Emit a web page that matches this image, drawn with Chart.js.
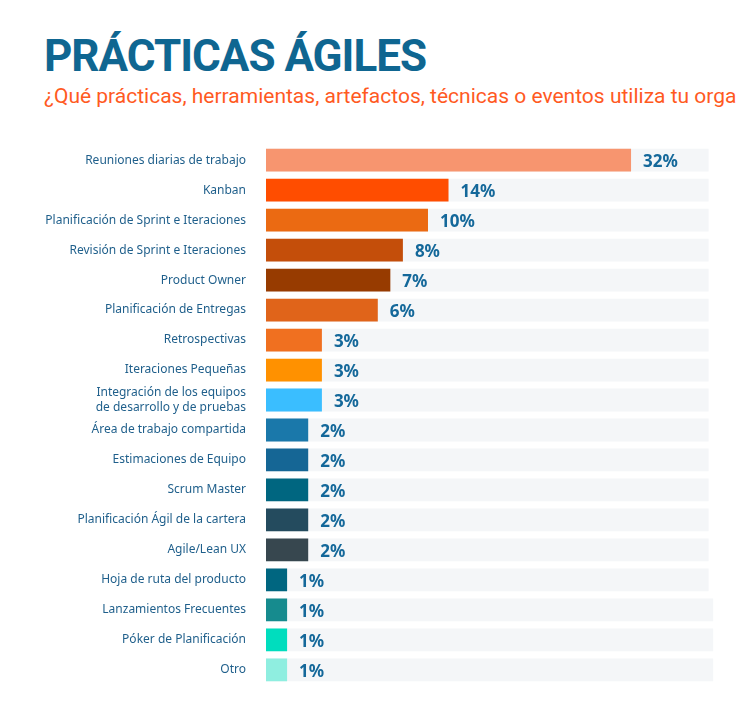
<!DOCTYPE html>
<html><head><meta charset="utf-8">
<script src="https://cdn.jsdelivr.net/npm/chart.js@4"></script>
<style>
body{margin:0;background:#fff;width:736px;height:720px;overflow:hidden;position:relative;font-family:"Liberation Sans Narrow","Roboto",sans-serif}
#t{position:absolute;left:44px;top:30px;font-size:44px;font-weight:bold;color:#0F6691;letter-spacing:-1px;white-space:nowrap}
#s{position:absolute;left:44px;top:84px;font-size:21px;color:#FF5A1F;white-space:nowrap}
#w{position:absolute;left:0;top:126px;width:736px;height:578px}
</style></head><body>
<div id="t">PRÁCTICAS ÁGILES</div>
<div id="s">¿Qué prácticas, herramientas, artefactos, técnicas o eventos utiliza tu organización?</div>
<div id="w"><canvas id="c"></canvas></div>
<script>
const categories=["Reuniones diarias de trabajo","Kanban","Planificación de Sprint e Iteraciones","Revisión de Sprint e Iteraciones","Product Owner","Planificación de Entregas","Retrospectivas","Iteraciones Pequeñas",["Integración de los equipos","de desarrollo y de pruebas"],"Área de trabajo compartida","Estimaciones de Equipo","Scrum Master","Planificación Ágil de la cartera","Agile/Lean UX","Hoja de ruta del producto","Lanzamientos Frecuentes","Póker de Planificación","Otro"];
const valueLabels=["32%","14%","10%","8%","7%","6%","3%","3%","3%","2%","2%","2%","2%","2%","1%","1%","1%","1%"];
const barLengths=[32,16.0,14.2,12.0,10.9,9.8,4.9,4.9,4.9,3.7,3.7,3.7,3.7,3.7,1.85,1.85,1.85,1.85];
const trackLength=[38.8,38.8,38.8,38.8,38.8,38.8,38.8,38.8,38.8,38.8,38.8,38.8,38.8,38.8,38.8,39.2,39.2,39.2];
const colors=["#F7956F","#FF4D00","#EB6A12","#C44E0A","#973B00","#E0641A","#F07020","#FF9100","#3ABEFF","#1A78AA","#156695","#006680","#244B5E","#37474F","#006680","#168B8E","#00DDBE","#8FEEE0"];
const valPlugin={id:'vals',afterDatasetsDraw(ch){const ctx=ch.ctx;const m=ch.getDatasetMeta(1);ctx.save();ctx.font='bold 17px "Noto Sans",sans-serif';ctx.fillStyle='#14689A';ctx.textBaseline='middle';m.data.forEach((b,i)=>{ctx.fillText(valueLabels[i],b.x+12,b.y+2);});ctx.restore();}};
new Chart(document.getElementById('c'),{type:'bar',
data:{labels:categories,datasets:[
{data:trackLength,backgroundColor:'#F4F6F8',barPercentage:0.76,categoryPercentage:1,grouped:false,order:2},
{data:barLengths,backgroundColor:colors,barPercentage:0.76,categoryPercentage:1,grouped:false,order:1}]},
options:{indexAxis:'y',responsive:true,maintainAspectRatio:false,animation:false,
layout:{padding:{left:0,right:0,top:0,bottom:0}},
plugins:{legend:{display:false},tooltip:{enabled:false}},
scales:{x:{min:0,max:41.2,display:false},
y:{grid:{display:false},border:{display:false},afterFit(s){s.width=266;},
ticks:{color:'#1F5F8B',font:{size:12,family:'"Noto Sans",sans-serif'},padding:12}}}},
plugins:[valPlugin]});
</script></body></html>
